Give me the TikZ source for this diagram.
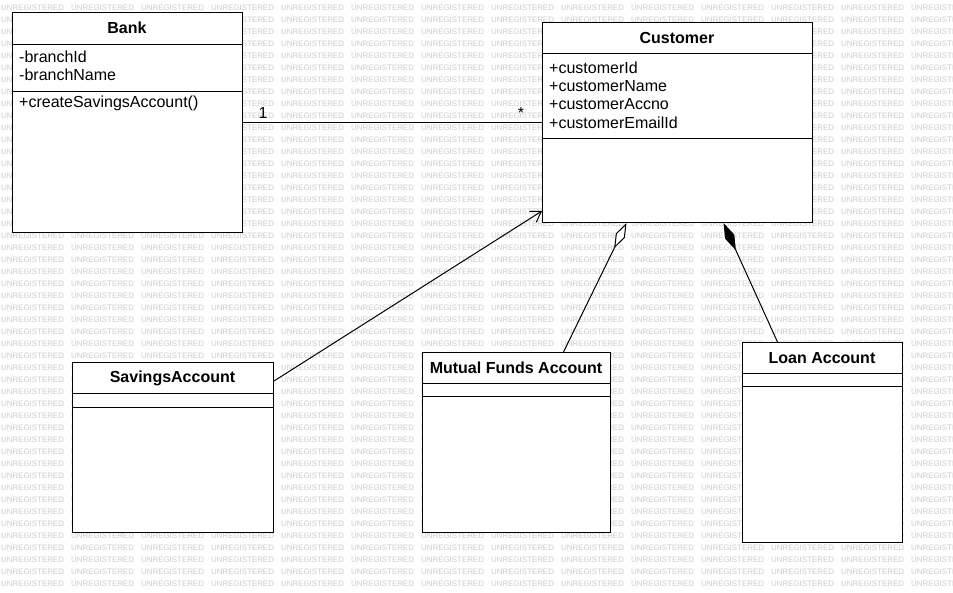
\documentclass[tikz,border=0pt]{standalone}
\usepackage{fontspec}
\setmainfont{Liberation Sans}
\usetikzlibrary{arrows.meta}

\tikzset{
  classbox/.style={draw=black, fill=white, line width=1pt, inner sep=0pt, anchor=north west},
  sepline/.style={draw=black, line width=1pt},
  classtitle/.style={inner sep=0pt, font=\fontsize{16}{18}\selectfont\bfseries},
  member/.style={inner sep=0pt, anchor=west, font=\fontsize{16}{18}\selectfont},
  mult/.style={inner sep=0pt, font=\fontsize{16}{18}\selectfont},
  link/.style={draw=black, line width=1pt},
  wm/.style={inner sep=0pt, anchor=west, text=black!20, font=\fontsize{7.9}{8}\selectfont}
}

\begin{document}
\begin{tikzpicture}[x=1pt, y=-1pt]
  \useasboundingbox[fill=white] (0,0) rectangle (953,592);

  % tiled background stamp, trimmed at the page edge
  \begin{scope}
    \clip (0,0) rectangle (953,592);
    \foreach \r in {0,...,48}{
      \foreach \c in {0,...,13}{
        \node[wm] (wm-\r-\c) at (70*\c+1, 8+12*\r) {UNREGISTERED};
      }
    }
  \end{scope}

  % ---- Bank ----
  \node[classbox, minimum width=230pt, minimum height=220pt] (bank) at (12,12) {};
  \draw[sepline] ([yshift=-32pt]bank.north west) -- ([yshift=-32pt]bank.north east);
  \draw[sepline] ([yshift=-79pt]bank.north west) -- ([yshift=-79pt]bank.north east);
  \node[classtitle] (bank-t) at (127,28) {Bank};
  \node[member] (bank-a1) at (19,57) {-branchId};
  \node[member] (bank-a2) at (19,75) {-branchName};
  \node[member] (bank-m1) at (19,103) {+createSavingsAccount()};

  % ---- Customer ----
  \node[classbox, minimum width=270pt, minimum height=200pt] (cust) at (542,22) {};
  \draw[sepline] ([yshift=-31pt]cust.north west) -- ([yshift=-31pt]cust.north east);
  \draw[sepline] ([yshift=-116pt]cust.north west) -- ([yshift=-116pt]cust.north east);
  \node[classtitle] (cust-t) at (677,38) {Customer};
  \node[member] (cust-a1) at (549,68) {+customerId};
  \node[member] (cust-a2) at (549,86) {+customerName};
  \node[member] (cust-a3) at (549,104) {+customerAccno};
  \node[member] (cust-a4) at (549,123) {+customerEmailId};

  % ---- SavingsAccount ----
  \node[classbox, minimum width=201pt, minimum height=170pt] (sav) at (72,362) {};
  \draw[sepline] ([yshift=-31pt]sav.north west) -- ([yshift=-31pt]sav.north east);
  \draw[sepline] ([yshift=-45pt]sav.north west) -- ([yshift=-45pt]sav.north east);
  \node[classtitle] (sav-t) at (172.5,378) {SavingsAccount};

  % ---- Mutual Funds Account ----
  \node[classbox, minimum width=188pt, minimum height=180pt] (mf) at (422,352) {};
  \draw[sepline] ([yshift=-31pt]mf.north west) -- ([yshift=-31pt]mf.north east);
  \draw[sepline] ([yshift=-44pt]mf.north west) -- ([yshift=-44pt]mf.north east);
  \node[classtitle] (mf-t) at (516,368) {Mutual Funds Account};

  % ---- Loan Account ----
  \node[classbox, minimum width=160pt, minimum height=200pt] (loan) at (742,342) {};
  \draw[sepline] ([yshift=-31pt]loan.north west) -- ([yshift=-31pt]loan.north east);
  \draw[sepline] ([yshift=-44pt]loan.north west) -- ([yshift=-44pt]loan.north east);
  \node[classtitle] (loan-t) at (822,358) {Loan Account};

  % ---- relations ----
  % Bank 1 -- * Customer
  \draw[link] (bank.east) -- (cust.west);
  \node[mult] (m-one) at (263,113) {1};
  \node[mult] (m-many) at (521,113) {*};

  % SavingsAccount -> Customer
  \draw[link, -{Straight Barb[length=10pt, width=13pt, line width=1pt]}]
    ([yshift=-19pt]sav.north east) -- ([yshift=12pt]cust.south west);

  % Mutual Funds Account aggregated by Customer
  \draw[link, -{Diamond[open, fill=white, length=28pt, width=10pt, line width=1pt]}]
    ([xshift=47pt]mf.north) -- ([xshift=-51pt]cust.south);

  % Loan Account composed into Customer
  \draw[link, -{Diamond[fill=black, length=30pt, width=10pt]}]
    ([xshift=-45pt]loan.north) -- ([xshift=46pt]cust.south);
\end{tikzpicture}
\end{document}
